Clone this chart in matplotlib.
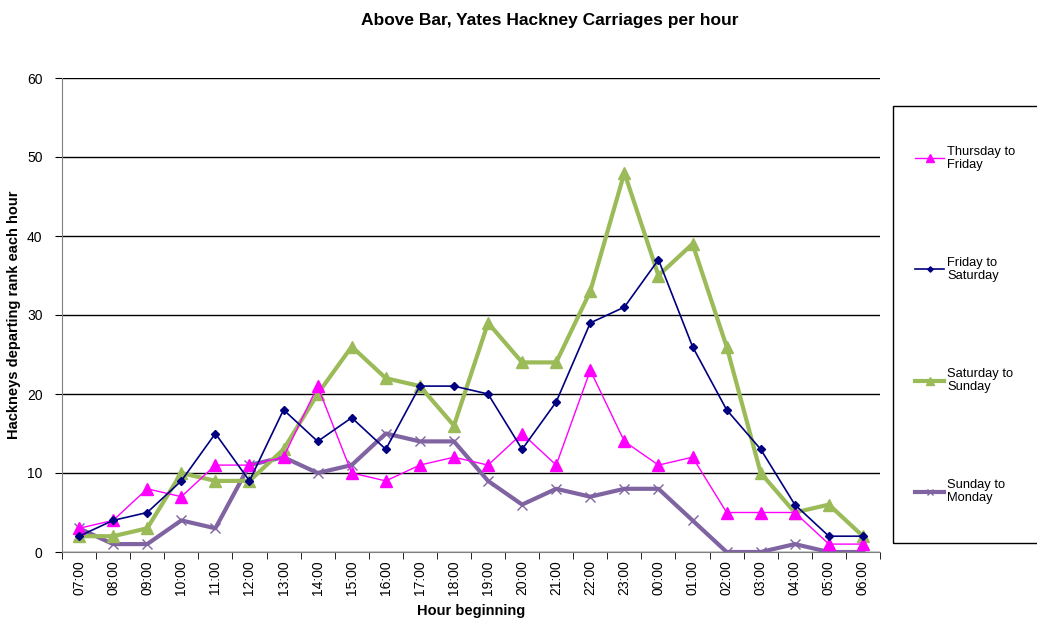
import matplotlib
matplotlib.use("Agg")
import matplotlib.pyplot as plt
from matplotlib.patches import Rectangle
import numpy as np

plt.rcParams['font.family'] = ['Liberation Sans', 'DejaVu Sans']

hours = ['07:00', '08:00', '09:00', '10:00', '11:00', '12:00', '13:00', '14:00',
         '15:00', '16:00', '17:00', '18:00', '19:00', '20:00', '21:00', '22:00',
         '23:00', '00:00', '01:00', '02:00', '03:00', '04:00', '05:00', '06:00']

thu_fri = [3, 4, 8, 7, 11, 11, 12, 21, 10, 9, 11, 12, 11, 15, 11, 23, 14, 11, 12, 5, 5, 5, 1, 1]
fri_sat = [2, 4, 5, 9, 15, 9, 18, 14, 17, 13, 21, 21, 20, 13, 19, 29, 31, 37, 26, 18, 13, 6, 2, 2]
sat_sun = [2, 2, 3, 10, 9, 9, 13, 20, 26, 22, 21, 16, 29, 24, 24, 33, 48, 35, 39, 26, 10, 5, 6, 2]
sun_mon = [3, 1, 1, 4, 3, 11, 12, 10, 11, 15, 14, 14, 9, 6, 8, 7, 8, 8, 4, 0, 0, 1, 0, 0]

W, H = 1037, 621
fig = plt.figure(figsize=(W / 100, H / 100), dpi=100)
ax = fig.add_axes([62 / W, 1 - 552 / H, 818 / W, 474 / H])

x = np.arange(len(hours))
l1, = ax.plot(x, thu_fri, color='#FF00FF', lw=1.0, marker='^', ms=9, label='Thursday to\nFriday', zorder=4)
l2, = ax.plot(x, fri_sat, color='#000080', lw=1.2, marker='D', ms=4.5, label='Friday to\nSaturday', zorder=5)
l3, = ax.plot(x, sat_sun, color='#9BBB59', lw=3, marker='^', ms=9, label='Saturday to\nSunday', zorder=3)
l4, = ax.plot(x, sun_mon, color='#8064A2', lw=3, marker='x', ms=7, mew=1, label='Sunday to\nMonday', zorder=2)

ax.set_xlim(-0.5, len(hours) - 0.5)
ax.set_ylim(0, 60)
ax.set_yticks(range(0, 61, 10))
ax.yaxis.grid(True, color='black', lw=1)
ax.set_axisbelow(True)

ax.set_xticks(x)
ax.set_xticklabels(hours, rotation=90, fontsize=10)
ax.set_xticks(np.arange(-0.5, len(hours), 1), minor=True)
ax.tick_params(axis='x', which='major', length=0, pad=6)
ax.tick_params(axis='x', which='minor', length=5, direction='out')
ax.tick_params(axis='y', labelsize=10, length=5, pad=9)

for s in ['top', 'right']:
    ax.spines[s].set_visible(False)
ax.spines['left'].set_color('#808080')
ax.spines['bottom'].set_color('#808080')

ax.set_xlabel('Hour beginning', fontsize=10.5, fontweight='bold', labelpad=6)
ax.set_ylabel('Hackneys departing rank each hour', fontsize=10.5, fontweight='bold', labelpad=4)
fig.text(550 / W, 1 - 20 / H, 'Above Bar, Yates Hackney Carriages per hour',
         fontsize=12.5, fontweight='bold', ha='center', va='center')

# legend frame drawn separately so the padding can match
fig.patches.append(Rectangle((893 / W, 1 - 543 / H), 150 / W, 437 / H, transform=fig.transFigure,
                             fill=False, edgecolor='black', lw=1.0))
leg = fig.legend(handles=[l1, l2, l3, l4], loc='center left', bbox_to_anchor=(915 / W, 1 - 325 / H),
                 fontsize=9.3, labelspacing=6.6, borderpad=0, borderaxespad=0, handlelength=2.25,
                 handletextpad=0.25, frameon=False, markerscale=0.6)

fig.savefig('out.png', dpi=100)
